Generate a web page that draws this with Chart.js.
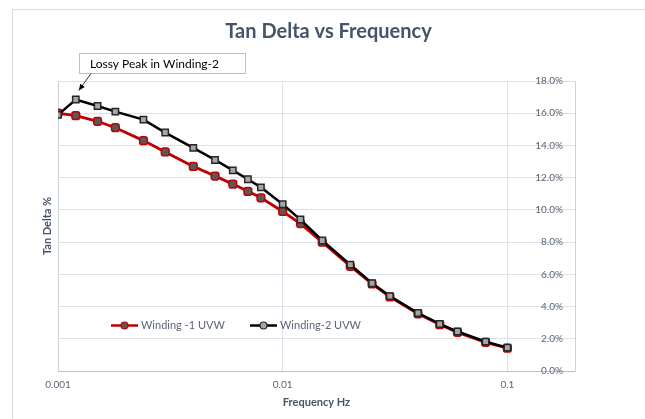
<!DOCTYPE html>
<html>
<head>
<meta charset="utf-8">
<script src="https://cdn.jsdelivr.net/npm/chart.js@4.4.1/dist/chart.umd.min.js"></script>
<style>
  html, body { margin: 0; padding: 0; background: #fff; }
  #wrap { width: 645px; height: 419px; position: relative; }
</style>
</head>
<body>
<div id="wrap"><canvas id="tdChart" width="645" height="419"></canvas></div>
<script>
// frequency points in Hz
let freq = [0.001, 0.0012, 0.0015, 0.0018, 0.0024, 0.003, 0.004, 0.005, 0.006, 0.007, 0.008,
            0.01, 0.012, 0.015, 0.02, 0.025, 0.03, 0.04, 0.05, 0.06, 0.08, 0.1];
// tan delta in %
let winding1 = [16.0, 15.85, 15.5, 15.1, 14.3, 13.6, 12.7, 12.1, 11.6, 11.15, 10.75,
                9.9, 9.15, 8.0, 6.5, 5.4, 4.6, 3.55, 2.88, 2.4, 1.78, 1.42];
let winding2 = [15.9, 16.85, 16.45, 16.1, 15.6, 14.8, 13.85, 13.1, 12.45, 11.9, 11.4,
                10.35, 9.4, 8.1, 6.6, 5.45, 4.65, 3.6, 2.92, 2.45, 1.82, 1.45];
let series_names = ["Winding -1 UVW", "Winding-2 UVW"];
let x_ticks = [0.001, 0.01, 0.1];
let note_text = "Lossy Peak in Winding-2";

const labelColor = "#5a6478";
const titleColor = "#44546a";
const gridColor = "#dde1e8";
const fontFam = "Lato, 'Open Sans', sans-serif";

function pts(vals) {
  return freq.map((f, i) => ({ x: f, y: vals[i] }));
}

// frame, legend inside plot and the callout box
const extras = {
  id: "extras",
  beforeDraw(chart) {
    const ctx = chart.ctx;
    ctx.save();
    ctx.strokeStyle = "#d9d9d9";
    ctx.lineWidth = 1;
    ctx.beginPath();
    ctx.moveTo(12.5, 419);
    ctx.lineTo(12.5, 9.5);
    ctx.lineTo(645, 9.5);
    ctx.stroke();
    ctx.restore();
  },
  afterDraw(chart) {
    const ctx = chart.ctx;
    const a = chart.chartArea;
    const ys = chart.scales.y;
    const xs = chart.scales.x;
    ctx.save();

    // legend
    const ly = Math.round(ys.getPixelForValue(2.85)) + 0.5;
    const items = [
      { x: a.left + 53, line: "#c00000", fill: "#595959", edge: "#c00000", text: series_names[0] },
      { x: a.left + 192, line: "#000000", fill: "#a6a6a6", edge: "#262626", text: series_names[1] }
    ];
    items.forEach(it => {
      ctx.strokeStyle = it.line;
      ctx.lineWidth = 2.5;
      ctx.beginPath();
      ctx.moveTo(it.x, ly);
      ctx.lineTo(it.x + 27, ly);
      ctx.stroke();
      ctx.beginPath();
      ctx.arc(it.x + 13.5, ly, 3.5, 0, Math.PI * 2);
      ctx.fillStyle = it.fill;
      ctx.fill();
      ctx.lineWidth = 1.2;
      ctx.strokeStyle = it.edge;
      ctx.stroke();
      ctx.fillStyle = labelColor;
      ctx.font = "11px " + fontFam;
      ctx.textAlign = "left";
      ctx.textBaseline = "middle";
      ctx.fillText(it.text, it.x + 30, ly);
    });

    // callout pointing at the winding-2 peak
    const px = xs.getPixelForValue(freq[1]);
    const py = ys.getPixelForValue(winding2[1]);
    const bx = 79.5, by = 53.5, bw = 166, bh = 20;
    ctx.fillStyle = "#ffffff";
    ctx.fillRect(bx, by, bw, bh);
    ctx.strokeStyle = "#bfbfbf";
    ctx.lineWidth = 1;
    ctx.strokeRect(bx, by, bw, bh);
    ctx.fillStyle = "#000000";
    ctx.font = "12px " + fontFam;
    ctx.textBaseline = "middle";
    ctx.fillText(note_text, 90, by + bh / 2 + 1);

    const sx = 91, sy = by + bh;
    const tx = px + 3, ty = py - 9;
    ctx.strokeStyle = "#000000";
    ctx.lineWidth = 0.8;
    ctx.beginPath();
    ctx.moveTo(sx, sy);
    ctx.lineTo(tx, ty);
    ctx.stroke();
    const ang = Math.atan2(ty - sy, tx - sx);
    ctx.beginPath();
    ctx.moveTo(tx, ty);
    ctx.lineTo(tx - 7 * Math.cos(ang - 0.4), ty - 7 * Math.sin(ang - 0.4));
    ctx.lineTo(tx - 7 * Math.cos(ang + 0.4), ty - 7 * Math.sin(ang + 0.4));
    ctx.closePath();
    ctx.fillStyle = "#000000";
    ctx.fill();

    ctx.restore();
  }
};

new Chart("tdChart", {
  type: "line",
  data: {
    datasets: [{
      label: series_names[0],
      data: pts(winding1),
      borderColor: "#c00000",
      borderWidth: 2.8,
      pointStyle: "rectRounded",
      pointRadius: 4.5,
      pointBackgroundColor: "#595959",
      pointBorderColor: "#c00000",
      pointBorderWidth: 1.5,
      order: 2,
      yAxisID: "y"
    },
    {
      label: series_names[1],
      data: pts(winding2),
      borderColor: "#000000",
      borderWidth: 2.5,
      pointStyle: "rect",
      pointRadius: 4.5,
      pointBackgroundColor: "#a6a6a6",
      pointBorderColor: "#262626",
      pointBorderWidth: 1.5,
      order: 1,
      yAxisID: "y"
    }]
  },
  options: {
    responsive: false,
    animation: false,
    layout: { padding: { top: 0, right: 0, bottom: 0, left: 12 } },
    plugins: {
      legend: { display: false },
      tooltip: { enabled: false },
      title: {
        display: true,
        text: "Tan Delta vs Frequency",
        color: titleColor,
        font: { family: fontFam, size: 20, weight: "bold" },
        padding: { top: 20, bottom: 37 }
      }
    },
    scales: {
      x: {
        type: "logarithmic",
        position: "bottom",
        min: 0.001,
        max: 0.2,
        afterBuildTicks: s => { s.ticks = x_ticks.map(v => ({ value: v, major: true })); },
        afterFit: s => { s.height = 48; },
        grid: { color: gridColor, drawTicks: false },
        border: { color: "#b9c0cc" },
        ticks: {
          color: labelColor,
          padding: 8,
          maxRotation: 0,
          autoSkip: false,
          font: { family: fontFam, size: 10 },
          callback: v => String(v)
        },
        title: {
          display: true,
          text: "Frequency Hz",
          color: titleColor,
          font: { family: fontFam, size: 11, weight: "bold" },
          padding: { top: 0, bottom: 10 }
        }
      },
      y: {
        position: "right",
        min: 0,
        max: 18,
        afterFit: s => { s.width = 70; },
        grid: { color: gridColor, drawTicks: false },
        border: { color: "#ccd2dc" },
        ticks: {
          stepSize: 2,
          mirror: true,
          padding: -12,
          color: labelColor,
          font: { family: fontFam, size: 10 },
          callback: v => v.toFixed(1) + "%"
        }
      },
      yL: {
        position: "left",
        min: 0,
        max: 18,
        afterFit: s => { s.width = 46; },
        grid: { display: false },
        border: { color: "#ccd2dc" },
        ticks: { display: false },
        title: {
          display: true,
          text: "Tan Delta %",
          color: titleColor,
          font: { family: fontFam, size: 11, weight: "bold" },
          padding: { top: 29, bottom: 0 }
        }
      }
    }
  },
  plugins: [extras]
});
</script>
</body>
</html>
